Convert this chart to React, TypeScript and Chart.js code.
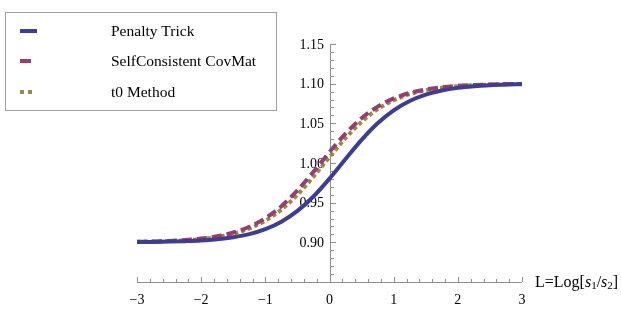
import React, { useEffect, useRef } from "react";
import { Chart, registerables } from "chart.js";

Chart.register(...registerables);

const xValues = [-3, -2.75, -2.5, -2.25, -2, -1.75, -1.5, -1.25, -1, -0.75, -0.5, -0.25, 0, 0.25, 0.5, 0.75, 1, 1.25, 1.5, 1.75, 2, 2.25, 2.5, 2.75, 3];

const penaltyTrick = [0.9003, 0.9005, 0.9009, 0.9015, 0.9024, 0.904, 0.9065, 0.9104, 0.9166, 0.926, 0.9396, 0.9578, 0.9803, 1.005, 1.0291, 1.05, 1.0664, 1.0782, 1.0862, 1.0914, 1.0947, 1.0967, 1.098, 1.0988, 1.0993];

const selfConsistent = [0.9007, 0.9011, 0.9018, 0.9029, 0.9047, 0.9077, 0.9124, 0.9196, 0.9304, 0.9456, 0.9655, 0.989, 1.0139, 1.0371, 1.0565, 1.0711, 1.0814, 1.0883, 1.0927, 1.0955, 1.0973, 1.0983, 1.099, 1.0994, 1.0996];

const t0Method = [0.9006, 0.9009, 0.9016, 0.9025, 0.9042, 0.9068, 0.9109, 0.9174, 0.9272, 0.9412, 0.9599, 0.9827, 1.0075, 1.0314, 1.0519, 1.0678, 1.0791, 1.0868, 1.0918, 1.0949, 1.0969, 1.0981, 1.0988, 1.0993, 1.0996];

const seriesLabels = ["Penalty Trick", "SelfConsistent CovMat", "t0 Method"];

const xTickValues = [-3, -2, -1, 0, 1, 2, 3];
const yTickValues = [0.9, 0.95, 1.0, 1.05, 1.1, 1.15];
const yTickLabels = ["0.90", "0.95", "1.00", "1.05", "1.10", "1.15"];

const FONT = "'Liberation Serif', 'DejaVu Serif', serif";
const AXIS_COLOR = "#8f8f8f";

const legendSamples = [
  { end: 37, dash: [] as number[] },
  { end: 31, dash: [] as number[] },
  { end: 33, dash: [4, 4] },
];

const mmaPlugin = {
  id: "mmaAxes",
  beforeDatasetsDraw(chart: any) {
    const { ctx } = chart;
    const xs = chart.scales.x;
    const ys = chart.scales.y;
    const x0 = xs.getPixelForValue(0);
    const yBottom = ys.getPixelForValue(ys.min);
    const yTop = ys.getPixelForValue(ys.max);
    const xLeft = xs.getPixelForValue(xs.min);
    const xRight = xs.getPixelForValue(xs.max);
    ctx.save();
    ctx.strokeStyle = AXIS_COLOR;
    ctx.lineWidth = 1;
    ctx.beginPath();
    ctx.moveTo(xLeft, Math.round(yBottom) + 0.5);
    ctx.lineTo(xRight, Math.round(yBottom) + 0.5);
    ctx.moveTo(Math.round(x0) + 0.5, yBottom);
    ctx.lineTo(Math.round(x0) + 0.5, yTop);
    for (let i = 0; i <= 30; i++) {
      const v = xs.min + i * 0.2;
      const px = Math.round(xs.getPixelForValue(v)) + 0.5;
      const major = i % 5 === 0;
      ctx.moveTo(px, Math.round(yBottom));
      ctx.lineTo(px, Math.round(yBottom) - (major ? 5 : 3));
    }
    for (let i = 0; i <= 30; i++) {
      const v = ys.min + i * 0.01;
      const py = Math.round(ys.getPixelForValue(v)) + 0.5;
      const major = i % 5 === 0;
      ctx.moveTo(Math.round(x0) + 1, py);
      ctx.lineTo(Math.round(x0) + 1 + (major ? 5 : 3), py);
    }
    ctx.stroke();
    ctx.fillStyle = "#000";
    ctx.font = `14px ${FONT}`;
    ctx.textAlign = "right";
    ctx.textBaseline = "middle";
    yTickValues.forEach((v, i) => {
      ctx.fillText(yTickLabels[i], Math.round(x0) - 6, ys.getPixelForValue(v) + 1);
    });
    ctx.restore();
  },
  afterDraw(chart: any) {
    const { ctx } = chart;
    const xs = chart.scales.x;
    const ys = chart.scales.y;
    const yBottom = ys.getPixelForValue(ys.min);
    const xRight = xs.getPixelForValue(xs.max);
    ctx.save();
    ctx.fillStyle = "#000";
    ctx.textBaseline = "middle";
    ctx.textAlign = "left";
    let x = xRight + 13;
    const y = yBottom + 0.5;
    const parts: [string, string, number][] = [
      ["L=Log[", "", 0],
      ["s", "italic ", 0],
      ["1", "", 4],
      ["/", "", 0],
      ["s", "italic ", 0],
      ["2", "", 4],
      ["]", "", 0],
    ];
    for (const [t, style, dy] of parts) {
      ctx.font = `${style}${dy ? 11 : 16}px ${FONT}`;
      ctx.fillText(t, x, y + dy);
      x += ctx.measureText(t).width;
    }
    ctx.strokeStyle = "#a0a0a0";
    ctx.lineWidth = 1;
    ctx.strokeRect(5.5, 12.5, 271, 98);
    const rows = [31, 61, 92];
    chart.data.datasets.forEach((ds: any, i: number) => {
      ctx.save();
      ctx.strokeStyle = ds.borderColor;
      ctx.lineWidth = ds.borderWidth;
      ctx.setLineDash(legendSamples[i].dash);
      ctx.beginPath();
      ctx.moveTo(20, rows[i]);
      ctx.lineTo(legendSamples[i].end, rows[i]);
      ctx.stroke();
      ctx.restore();
      ctx.font = `15.5px ${FONT}`;
      ctx.fillStyle = "#000";
      ctx.fillText(ds.label, 111, rows[i] + 0.5);
    });
    ctx.restore();
  },
};

export default function App() {
  const ref = useRef<HTMLCanvasElement | null>(null);
  useEffect(() => {
    if (!ref.current) return;
    const mk = (vals: number[]) => xValues.map((x, i) => ({ x, y: vals[i] }));
    const chart = new Chart(ref.current, {
      type: "line",
      data: {
        datasets: [
          {
            label: seriesLabels[0],
            data: mk(penaltyTrick),
            borderColor: "#3d3d99",
            borderWidth: 4,
            pointRadius: 0,
            cubicInterpolationMode: "monotone",
            fill: false,
          },
          {
            label: seriesLabels[1],
            data: mk(selfConsistent),
            borderColor: "#993d71",
            borderWidth: 4,
            borderDash: [10, 5],
            pointRadius: 0,
            cubicInterpolationMode: "monotone",
            fill: false,
          },
          {
            label: seriesLabels[2],
            data: mk(t0Method),
            borderColor: "#998b3d",
            borderWidth: 4,
            borderDash: [4, 3],
            pointRadius: 0,
            cubicInterpolationMode: "monotone",
            fill: false,
          },
        ],
      },
      options: {
        animation: false,
        responsive: false,
        events: [],
        layout: { padding: { left: 137, right: 99, top: 44, bottom: 2 } },
        plugins: { legend: { display: false }, tooltip: { enabled: false } },
        scales: {
          x: {
            type: "linear",
            min: -3,
            max: 3,
            grid: { display: false, drawTicks: false },
            border: { display: false },
            afterBuildTicks: (s: any) => {
              s.ticks = xTickValues.map((v) => ({ value: v }));
            },
            afterFit: (s: any) => {
              s.height = 27;
            },
            ticks: {
              padding: 10,
              color: "#000",
              font: { family: FONT, size: 14 },
              maxRotation: 0,
              callback: (v: any) => (Number(v) < 0 ? "\u2212" + Math.abs(Number(v)) : String(v)),
            },
          },
          y: {
            type: "linear",
            min: 0.85,
            max: 1.15,
            position: { x: 0 } as any,
            grid: { display: false, drawTicks: false },
            border: { display: false },
            afterBuildTicks: (s: any) => {
              s.ticks = yTickValues.map((v) => ({ value: v }));
            },
            ticks: { display: false },
          },
        },
      },
      plugins: [mmaPlugin],
    } as any);
    return () => chart.destroy();
  }, []);
  return (
    <div style={{ position: "absolute", left: 0, top: 0, width: 621, height: 311, background: "#fff" }}>
      <canvas ref={ref} width={621} height={311} style={{ display: "block" }} />
    </div>
  );
}
